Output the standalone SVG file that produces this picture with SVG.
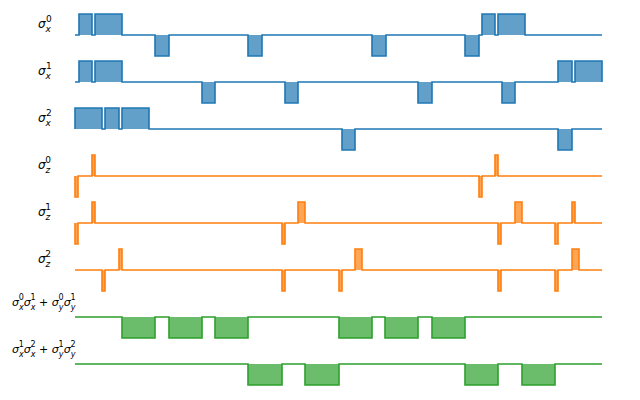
<svg xmlns="http://www.w3.org/2000/svg" width="640" height="400" viewBox="0 0 640 400">
<style>
text{font-family:"DejaVu Sans",sans-serif;font-size:12px;fill:#000}
.s{font-style:italic}
.b{font-size:9px}
.sm{font-size:11px}
.sm .b{font-size:8px}
path{stroke-width:1.6;stroke-linejoin:miter}
.bl{stroke:#1f77b4;fill:#1f77b4;fill-opacity:0.7}
.or{stroke:#ff7f0e;fill:#ff7f0e;fill-opacity:0.7}
.gr{stroke:#2ca02c;fill:#2ca02c;fill-opacity:0.7}
</style>
<rect width="640" height="400" fill="#fff"/>
<g id="labels">
<text x="38" y="28"><tspan class="s">σ</tspan><tspan class="s b" dy="4">x</tspan><tspan class="b" dx="-5" dy="-10">0</tspan></text>
<text x="38" y="75"><tspan class="s">σ</tspan><tspan class="s b" dy="4">x</tspan><tspan class="b" dx="-5" dy="-10">1</tspan></text>
<text x="38" y="122"><tspan class="s">σ</tspan><tspan class="s b" dy="4">x</tspan><tspan class="b" dx="-5" dy="-10">2</tspan></text>
<text x="38" y="169"><tspan class="s">σ</tspan><tspan class="s b" dy="4">z</tspan><tspan class="b" dx="-5" dy="-10">0</tspan></text>
<text x="38" y="216"><tspan class="s">σ</tspan><tspan class="s b" dy="4">z</tspan><tspan class="b" dx="-5" dy="-10">1</tspan></text>
<text x="38" y="263"><tspan class="s">σ</tspan><tspan class="s b" dy="4">z</tspan><tspan class="b" dx="-5" dy="-10">2</tspan></text>
<text class="sm" x="12" y="306"><tspan class="s">σ</tspan><tspan class="s b" dy="4">x</tspan><tspan class="b" dx="-5" dy="-10">0</tspan><tspan class="s" dy="6">σ</tspan><tspan class="s b" dy="4">x</tspan><tspan class="b" dx="-5" dy="-10">1</tspan><tspan dy="6"> + </tspan><tspan class="s">σ</tspan><tspan class="s b" dy="4">y</tspan><tspan class="b" dx="-5" dy="-10">0</tspan><tspan class="s" dy="6">σ</tspan><tspan class="s b" dy="4">y</tspan><tspan class="b" dx="-5" dy="-10">1</tspan></text>
<text class="sm" x="12" y="353"><tspan class="s">σ</tspan><tspan class="s b" dy="4">x</tspan><tspan class="b" dx="-5" dy="-10">1</tspan><tspan class="s" dy="6">σ</tspan><tspan class="s b" dy="4">x</tspan><tspan class="b" dx="-5" dy="-10">2</tspan><tspan dy="6"> + </tspan><tspan class="s">σ</tspan><tspan class="s b" dy="4">y</tspan><tspan class="b" dx="-5" dy="-10">1</tspan><tspan class="s" dy="6">σ</tspan><tspan class="s b" dy="4">y</tspan><tspan class="b" dx="-5" dy="-10">2</tspan></text>
</g>
<g id="signals">
<path class="bl" d="M75,35 H79 V14 H92 V35 H95 V14 H122 V35 H155 V56 H169 V35 H248 V56 H262 V35 H372 V56 H386 V35 H465 V56 H479 V35 H482 V14 H495 V35 H498 V14 H525 V35 H602"/>
<path class="bl" d="M75,82 H79 V61 H92 V82 H95 V61 H122 V82 H202 V103 H215 V82 H285 V103 H298 V82 H418 V103 H432 V82 H502 V103 H515 V82 H558 V61 H572 V82 H575 V61 H602 V82"/>
<path class="bl" d="M75,129 V108 H102 V129 H105 V108 H119 V129 H122 V108 H149 V129 H342 V150 H355 V129 H558 V150 H572 V129 H602"/>
<path class="or" d="M75,176 V197 H78 V176 H92 V155 H95 V176 H479 V197 H482 V176 H495 V155 H498 V176 H602"/>
<path class="or" d="M75,223 V244 H78 V223 H92 V202 H95 V223 H282 V244 H285 V223 H298 V202 H305 V223 H498 V244 H501 V223 H515 V202 H522 V223 H555 V244 H558 V223 H572 V202 H575 V223 H602"/>
<path class="or" d="M75,270 H102 V291 H105 V270 H119 V249 H122 V270 H282 V291 H285 V270 H339 V291 H342 V270 H355 V249 H362 V270 H498 V291 H501 V270 H555 V291 H558 V270 H572 V249 H579 V270 H602"/>
<path class="gr" d="M75,317 H122 V338 H155 V317 H169 V338 H202 V317 H215 V338 H248 V317 H339 V338 H372 V317 H385 V338 H418 V317 H432 V338 H465 V317 H602"/>
<path class="gr" d="M75,364 H248 V385 H282 V364 H305 V385 H339 V364 H465 V385 H498 V364 H522 V385 H555 V364 H602"/>
</g>
</svg>
